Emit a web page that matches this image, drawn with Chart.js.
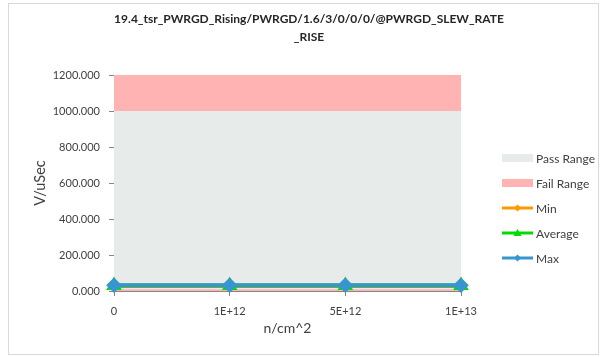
<!DOCTYPE html>
<html>
<head>
<meta charset="utf-8">
<script src="https://cdn.jsdelivr.net/npm/chart.js@4.4.1/dist/chart.umd.min.js"></script>
<style>
  html, body { margin: 0; padding: 0; background: #fff; }
  #wrap { width: 607px; height: 357px; position: relative; }
</style>
</head>
<body>
<div id="wrap"><canvas id="chart" width="607" height="357"></canvas></div>
<script>
// data
const fluence = ['0', '1E+12', '5E+12', '1E+13'];
const lowerLimit = [10, 10, 10, 10];
const upperLimit = [1000, 1000, 1000, 1000];
const axisTop = [1200, 1200, 1200, 1200];
const minVals = [28, 28, 28, 28];
const avgVals = [30, 30, 30, 30];
const maxVals = [32, 32, 32, 32];
const titleLines = ['19.4_tsr_PWRGD_Rising/PWRGD/1.6/3/0/0/0/@PWRGD_SLEW_RATE', '_RISE'];

const FONT = 'Lato, "Open Sans", sans-serif';
const PASS = 'rgb(231, 236, 235)';
const FAIL = 'rgb(255, 179, 179)';

// рамка, заголовок по центру всей диаграммы и легенда справа
const frameLegend = {
  id: 'frameLegend',
  afterDraw(chart) {
    const c = chart.ctx;
    c.save();
    c.strokeStyle = '#d9d9d9';
    c.lineWidth = 1;
    c.strokeRect(8.5, 3.5, 590, 351);

    c.fillStyle = '#262626';
    c.font = 'bold 12px ' + FONT;
    c.textAlign = 'center';
    c.textBaseline = 'middle';
    titleLines.forEach((t, i) => c.fillText(t, 309, 19 + i * 18));

    const items = chart.data.datasets.filter(d => !d.hideLegend);
    let y = 158;
    items.forEach(d => {
      if (d.isArea) {
        c.fillStyle = d.backgroundColor;
        c.fillRect(502, y - 4, 31, 8);
      } else {
        c.strokeStyle = d.borderColor;
        c.lineWidth = 3;
        c.beginPath();
        c.moveTo(502, y);
        c.lineTo(533, y);
        c.stroke();
        c.fillStyle = d.borderColor;
        c.beginPath();
        if (d.pointStyle === 'triangle') {
          c.moveTo(517.5, y - 4);
          c.lineTo(521.5, y + 3);
          c.lineTo(513.5, y + 3);
        } else {
          c.moveTo(517.5, y - 3.5);
          c.lineTo(521, y);
          c.lineTo(517.5, y + 3.5);
          c.lineTo(514, y);
        }
        c.closePath();
        c.fill();
      }
      c.fillStyle = '#404040';
      c.font = '12px ' + FONT;
      c.textBaseline = 'middle';
      c.textAlign = 'left';
      c.fillText(d.label, 536, y + 1);
      y += 25;
    });
    c.restore();
  }
};

const lineSet = (label, data, color, style, radius, order) => ({
  label, data, order,
  borderColor: color,
  backgroundColor: color,
  borderWidth: 4,
  pointStyle: style,
  pointRadius: radius,
  pointHoverRadius: radius,
  fill: false,
  clip: false,
  tension: 0
});

new Chart(document.getElementById('chart'), {
  type: 'line',
  data: {
    labels: fluence,
    datasets: [
      { label: 'Fail Range', data: lowerLimit, hideLegend: true, isArea: true, order: 10,
        backgroundColor: FAIL, borderWidth: 0, pointRadius: 0, fill: 'origin' },
      { label: 'Pass Range', data: upperLimit, isArea: true, order: 10,
        backgroundColor: PASS, borderWidth: 0, pointRadius: 0, fill: '-1' },
      { label: 'Fail Range', data: axisTop, isArea: true, order: 10,
        backgroundColor: FAIL, borderWidth: 0, pointRadius: 0, fill: '-1' },
      lineSet('Min', minVals, 'rgb(255, 153, 0)', 'rectRot', 3, 3),
      lineSet('Average', avgVals, 'rgb(0, 220, 0)', 'triangle', 5, 2),
      lineSet('Max', maxVals, 'rgb(55, 150, 205)', 'rectRot', 5, 1)
    ]
  },
  options: {
    responsive: false,
    animation: false,
    layout: { padding: { left: 28, right: 146, top: 75, bottom: 16 } },
    plugins: {
      legend: { display: false },
      tooltip: { enabled: false },
      title: { display: false }
    },
    scales: {
      x: {
        type: 'category',
        offset: false,
        grid: { display: true, drawOnChartArea: false, drawTicks: true, tickLength: 5, color: '#868686' },
        border: { color: '#868686' },
        ticks: { color: '#404040', font: { family: FONT, size: 11 }, padding: 9, maxRotation: 0 },
        title: { display: true, text: 'n/cm^2', color: '#404040', font: { family: FONT, size: 14 }, padding: { top: 0 } },
        afterFit: s => { s.height = 50; }
      },
      y: {
        min: 0,
        max: 1200,
        grid: { display: true, drawOnChartArea: false, drawTicks: true, tickLength: 5, color: '#868686' },
        border: { color: '#868686' },
        ticks: {
          stepSize: 200,
          color: '#404040',
          font: { family: FONT, size: 11 },
          padding: 9,
          callback: v => v.toFixed(3)
        },
        title: { display: true, text: 'V/uSec', color: '#404040', font: { family: FONT, size: 14.5 }, padding: 4 },
        afterFit: s => { s.width = 86; }
      }
    }
  },
  plugins: [frameLegend]
});
</script>
</body>
</html>
